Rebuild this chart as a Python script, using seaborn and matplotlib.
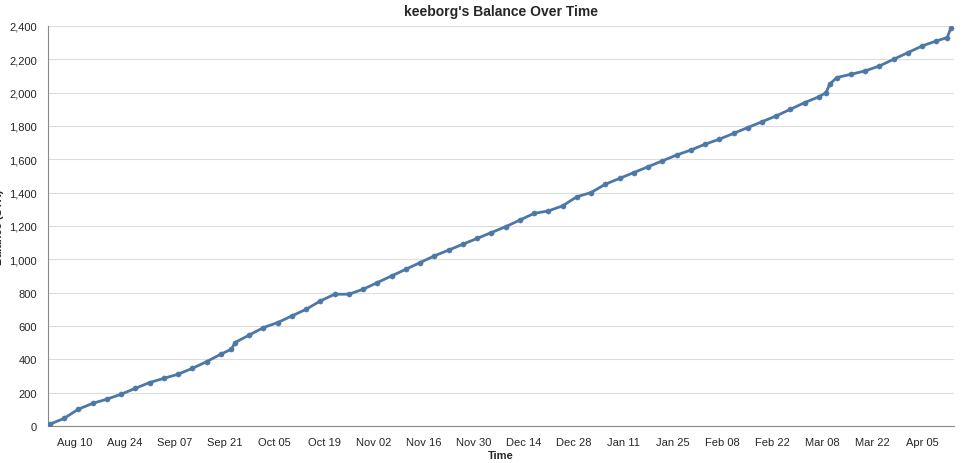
import pandas as pd
import numpy as np
import matplotlib.pyplot as plt
import matplotlib.dates as mdates
import matplotlib.ticker as mticker
import seaborn as sns

# values
dates = [
    "2024-08-03", "2024-08-07", "2024-08-11", "2024-08-15", "2024-08-19", "2024-08-23",
    "2024-08-27", "2024-08-31", "2024-09-04", "2024-09-08", "2024-09-12", "2024-09-16",
    "2024-09-20", "2024-09-23", "2024-09-24", "2024-09-28", "2024-10-02", "2024-10-06",
    "2024-10-10", "2024-10-14", "2024-10-18", "2024-10-22", "2024-10-26", "2024-10-30",
    "2024-11-03", "2024-11-07", "2024-11-11", "2024-11-15", "2024-11-19", "2024-11-23",
    "2024-11-27", "2024-12-01", "2024-12-05", "2024-12-09", "2024-12-13", "2024-12-17",
    "2024-12-21", "2024-12-25", "2024-12-29", "2025-01-02", "2025-01-06", "2025-01-10",
    "2025-01-14", "2025-01-18", "2025-01-22", "2025-01-26", "2025-01-30", "2025-02-03",
    "2025-02-07", "2025-02-11", "2025-02-15", "2025-02-19", "2025-02-23", "2025-02-27",
    "2025-03-03", "2025-03-07", "2025-03-09", "2025-03-10", "2025-03-12", "2025-03-16",
    "2025-03-20", "2025-03-24", "2025-03-28", "2025-04-01", "2025-04-05", "2025-04-09",
    "2025-04-12", "2025-04-13",
]
balance = [
    10, 45, 100, 135, 160, 190,
    225, 260, 285, 310, 345, 385,
    430, 460, 500, 545, 590, 620,
    660, 700, 750, 790, 790, 820,
    860, 900, 940, 980, 1020, 1055,
    1090, 1125, 1160, 1195, 1235, 1275,
    1290, 1320, 1375, 1400, 1450, 1485,
    1520, 1555, 1590, 1625, 1655, 1690,
    1720, 1755, 1790, 1825, 1860, 1900,
    1940, 1975, 2000, 2050, 2090, 2110,
    2130, 2160, 2200, 2240, 2280, 2310,
    2330, 2385,
]

df = pd.DataFrame({"Time": pd.to_datetime(dates), "Balance": balance})

sns.set_style("white")
plt.rcParams["font.family"] = ["Liberation Sans", "DejaVu Sans"]

fig, ax = plt.subplots(figsize=(9.61, 4.64), dpi=100)
color = "#4c78a8"
sns.lineplot(data=df, x="Time", y="Balance", color=color, lw=2, ax=ax)
sns.scatterplot(data=df, x="Time", y="Balance", color=color, s=14,
                edgecolor=color, ax=ax, zorder=3)

ax.set_xlim(pd.Timestamp("2024-08-02 12:00"), pd.Timestamp("2025-04-14"))
ax.set_ylim(0, 2400)
ax.yaxis.set_major_locator(mticker.MultipleLocator(200))
ax.yaxis.set_major_formatter(mticker.FuncFormatter(lambda v, p: f"{int(v):,}"))
ticks = pd.date_range("2024-08-10", "2025-04-13", freq="14D")
ax.set_xticks(ticks)
ax.xaxis.set_major_formatter(mdates.DateFormatter("%b %d"))
ax.set_xticks(pd.date_range("2024-08-03", "2025-04-13", freq="7D"), minor=True)
ax.tick_params(axis="x", which="minor", length=5, color="#888888")

ax.grid(axis="y", color="#dddddd", lw=0.8)
ax.set_axisbelow(True)
for s in ["top", "right"]:
    ax.spines[s].set_visible(False)
for s in ["left", "bottom"]:
    ax.spines[s].set_color("#888888")
ax.tick_params(axis="both", labelsize=8, length=5, color="#888888", pad=3)

ax.set_title("keeborg's Balance Over Time", fontsize=10, fontweight="bold", pad=8)
ax.set_xlabel("Time", fontsize=8, fontweight="bold", labelpad=2)
ax.set_ylabel("Balance (STK)", fontsize=8, fontweight="bold", labelpad=4)

fig.subplots_adjust(left=0.05, right=0.993, top=0.942, bottom=0.08)
fig.savefig("out.png", dpi=100)
